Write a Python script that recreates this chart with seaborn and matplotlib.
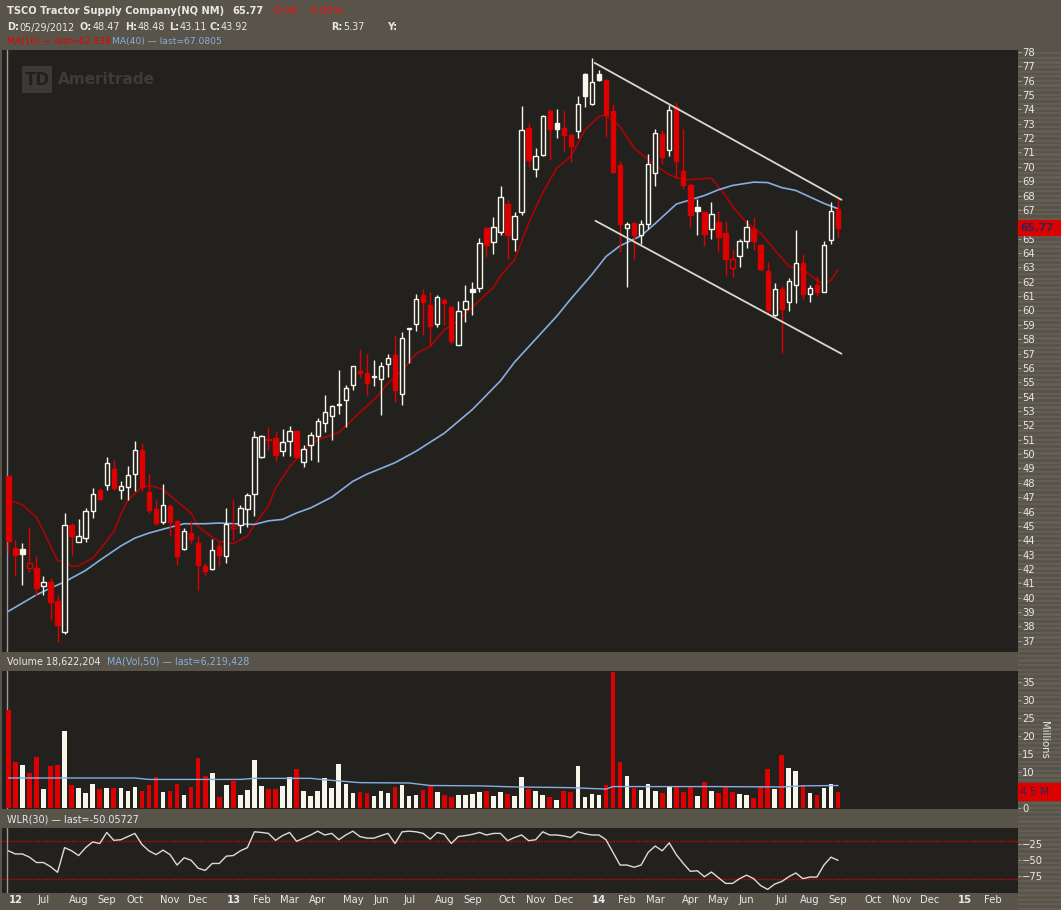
import numpy as np
import pandas as pd
import seaborn as sns
import matplotlib.pyplot as plt
import matplotlib.transforms as mtrans
from matplotlib.patches import Rectangle

# weekly bars, first bar = week of 2012-05-28
opens = [48.47, 43.46, 43.39, 42.06, 42.06, 40.83, 41.09, 39.79, 37.59, 45.06,
         43.87, 44.15, 46.05, 47.52, 47.86, 48.95, 47.52, 47.70, 48.63, 50.30,
         47.33, 46.19, 45.24, 46.40, 45.36, 43.39, 44.50, 43.80, 42.23, 42.02,
         43.57, 42.88, 44.85, 45.03, 46.17, 47.21, 49.79, 51.04, 51.11, 50.18,
         50.88, 51.58, 49.44, 50.60, 51.27, 52.13, 52.62, 53.39, 53.78, 54.78,
         55.80, 55.66, 55.36, 55.22, 56.26, 56.91, 54.18, 58.70, 59.05, 61.09,
         60.39, 59.05, 60.74, 60.23, 57.59, 60.09, 61.48, 61.55, 65.73, 64.75,
         65.45, 67.42, 64.96, 66.84, 72.69, 69.83, 70.81, 73.89, 73.04, 72.69,
         72.22, 72.46, 76.47, 74.36, 76.47, 76.05, 73.89, 70.14, 65.73, 66.12,
         65.22, 66.01, 69.56, 72.29, 71.18, 74.15, 69.72, 68.74, 67.19, 66.84,
         65.66, 66.15, 65.38, 62.94, 63.76, 64.85, 65.66, 64.57, 62.76, 59.65,
         61.50, 60.58, 61.74, 63.29, 61.13, 61.78, 61.27, 64.89, 67.07]
highs = [48.48, 44.04, 43.80, 44.85, 42.88, 41.48, 41.37, 40.21, 45.89, 45.20,
         45.47, 46.24, 47.63, 47.63, 49.79, 49.60, 48.10, 49.19, 50.93, 50.76,
         48.63, 46.82, 47.93, 46.50, 45.40, 44.85, 45.31, 44.27, 42.41, 44.08,
         43.92, 46.24, 46.89, 46.47, 47.28, 51.58, 51.30, 51.88, 51.58, 51.74,
         51.97, 51.65, 50.65, 51.53, 52.50, 54.13, 53.43, 55.87, 54.83, 56.12,
         57.33, 56.98, 56.57, 56.38, 56.98, 58.31, 58.47, 58.75, 61.16, 61.48,
         61.25, 61.09, 60.86, 60.30, 60.63, 61.79, 61.97, 65.03, 65.80, 66.49,
         68.63, 67.70, 66.82, 74.24, 73.04, 71.30, 73.60, 74.01, 74.01, 73.96,
         72.25, 74.94, 76.50, 77.56, 76.75, 76.10, 74.38, 70.41, 66.14, 66.15,
         66.31, 70.90, 72.64, 72.53, 74.31, 74.54, 72.64, 68.86, 67.77, 66.90,
         67.54, 66.93, 66.24, 64.29, 64.99, 66.31, 66.49, 64.60, 63.36, 61.90,
         61.67, 62.29, 65.61, 63.92, 61.78, 62.43, 64.80, 67.54, 67.82]
lows = [43.11, 41.48, 40.90, 41.80, 40.09, 40.21, 38.47, 36.89, 37.47, 42.99,
        43.87, 43.85, 45.54, 46.80, 47.52, 47.47, 46.87, 46.82, 47.40, 47.40,
        45.89, 45.08, 45.15, 44.27, 42.25, 43.30, 43.80, 40.51, 41.60, 41.95,
        42.18, 42.41, 44.04, 44.50, 44.89, 45.66, 49.70, 50.30, 49.53, 49.84,
        49.84, 49.72, 49.07, 49.60, 49.42, 51.51, 51.00, 52.78, 51.88, 54.48,
        55.29, 54.08, 54.71, 52.69, 55.34, 53.62, 53.43, 56.33, 58.54, 58.31,
        57.49, 58.84, 59.00, 57.68, 57.59, 59.19, 59.65, 61.30, 63.71, 63.92,
        65.22, 63.57, 64.15, 66.61, 69.97, 69.28, 70.75, 70.44, 71.99, 71.06,
        70.32, 71.99, 74.15, 74.30, 76.00, 72.06, 69.60, 64.10, 61.60, 63.57,
        64.64, 65.68, 68.63, 70.20, 70.76, 69.25, 68.44, 65.84, 65.22, 64.50,
        64.96, 64.10, 62.43, 62.36, 62.99, 64.38, 64.22, 62.71, 59.65, 59.63,
        57.03, 59.93, 60.51, 60.81, 60.62, 60.97, 61.25, 64.61, 65.10]
closes = [43.92, 42.94, 43.04, 42.41, 40.67, 41.07, 39.67, 38.12, 45.06, 44.27,
          44.31, 46.05, 47.21, 46.87, 49.37, 47.63, 47.75, 48.54, 50.30, 47.70,
          46.12, 45.20, 46.47, 45.24, 42.88, 44.66, 44.08, 42.25, 41.83, 43.34,
          42.99, 45.15, 45.01, 46.24, 47.12, 51.16, 51.25, 50.95, 49.91, 50.81,
          51.58, 49.79, 50.35, 51.34, 52.32, 52.92, 53.32, 53.48, 54.62, 56.12,
          55.61, 54.92, 55.43, 56.12, 56.68, 54.43, 58.07, 58.75, 60.79, 60.56,
          58.89, 60.93, 60.51, 57.84, 59.95, 60.65, 61.25, 64.68, 64.57, 65.80,
          67.88, 65.22, 66.54, 72.57, 70.44, 70.76, 73.52, 72.62, 72.66, 72.18,
          71.48, 74.36, 74.96, 75.89, 76.01, 73.62, 69.63, 66.01, 66.03, 65.22,
          66.03, 70.18, 72.34, 70.67, 73.96, 70.37, 68.74, 66.66, 66.89, 65.31,
          66.70, 65.10, 63.59, 63.57, 64.85, 65.80, 64.80, 62.87, 60.00, 61.48,
          60.11, 62.06, 63.29, 61.13, 61.55, 61.27, 64.57, 66.93, 65.77]

# volume in millions
volumes = [27.2, 12.8, 11.9, 9.7, 14.1, 5.3, 11.6, 11.9, 21.4, 6.4,
           5.6, 4.1, 6.6, 5.3, 5.6, 5.6, 5.6, 4.7, 5.9, 4.7,
           6.4, 8.6, 4.4, 4.7, 6.6, 3.6, 5.8, 13.9, 8.9, 9.7,
           3.0, 6.4, 7.5, 3.6, 5.0, 13.3, 6.1, 5.3, 5.3, 6.1,
           8.6, 10.8, 4.7, 3.3, 4.7, 8.3, 5.5, 12.2, 6.6, 4.1,
           4.4, 4.1, 3.3, 4.7, 4.1, 5.8, 6.4, 3.3, 3.6, 5.0,
           6.4, 4.4, 3.6, 3.0, 3.6, 3.6, 3.9, 4.4, 4.7, 3.3,
           4.4, 3.9, 3.3, 8.6, 5.3, 4.7, 3.6, 3.0, 2.2, 4.7,
           4.4, 11.6, 3.0, 3.9, 3.6, 6.4, 37.8, 12.8, 8.9, 5.5,
           5.0, 6.6, 4.7, 4.1, 6.1, 5.7, 4.4, 6.1, 3.3, 7.2,
           4.7, 4.1, 5.7, 4.4, 3.9, 3.6, 2.8, 6.1, 10.8, 5.3,
           14.7, 11.1, 10.3, 6.4, 4.1, 3.6, 5.5, 6.6, 4.5]

wlr = [-35, -40, -40, -45, -53.5, -53.5, -60, -69, -30, -35,
       -42.5, -30, -21, -23.5, -6, -18.5, -17.5, -12.5, -7.5, -25,
       -35, -41, -34, -41, -57.5, -46, -50, -62.5, -66, -55,
       -55, -43.5, -42.5, -35, -30, -5, -6, -7.5, -18.5, -11,
       -6, -20, -15, -10, -4, -10, -7.5, -17.5, -10, -4,
       -12.5, -15, -15, -11, -7.5, -23.5, -5, -4, -5, -7.5,
       -16.5, -6, -9, -23.5, -12.5, -11, -9, -6, -10, -7.5,
       -7.5, -19, -14, -10, -19, -17.5, -5, -10, -10, -11.5,
       -14, -5, -8, -10, -10, -17.5, -37.5, -57.5, -57.5, -61,
       -57.5, -37.5, -27.5, -35, -22.5, -41, -55, -67.5, -66.5, -76,
       -68.5, -77.5, -86.5, -86.5, -79, -73.5, -79, -90, -96, -87.5,
       -83.5, -76, -70, -79, -76.5, -76.5, -57.5, -45, -50.06]

# moving averages (week index, value)
ma10_week = [0, 2, 4, 5, 6, 7, 8, 9, 10, 12, 13, 15, 16, 17, 19, 20, 21, 22, 24, 26,
             27, 29, 30, 32, 34, 35, 37, 38, 40, 42, 44, 47, 50, 52, 54, 56, 58, 60, 62, 64,
             67, 69, 70, 72, 74, 76, 78, 80, 82, 84, 85, 87, 89, 92, 94, 96, 98, 100, 102, 103,
             105, 106, 107, 109, 111, 113, 115, 116, 117, 118]
ma10_val = [46.82, 46.47, 45.6, 44.62, 43.6, 42.6, 42.5, 42.18, 42.23, 42.75, 43.34, 44.6, 45.78,
            46.8, 47.7, 47.79, 47.7, 47.52, 46.7, 45.9, 44.96, 44.2, 43.92, 43.76, 44.3, 45.08,
            46.4, 47.63, 49.1, 50.2, 51.0, 51.5, 52.9, 53.78, 54.94, 55.8, 57.0, 57.49, 58.65,
            59.3, 60.7, 61.6, 62.4, 63.52, 66.08, 68.2, 69.9, 70.72, 72.57, 73.5, 73.62, 72.8,
            71.3, 70.1, 69.45, 69.09, 69.14, 69.21, 68.0, 67.24, 66.1, 65.73, 65.38, 64.22,
            63.06, 62.87, 62.1, 61.83, 62.1, 62.84]
ma40_week = [0, 4, 6, 8, 11, 13, 16, 18, 20, 23, 25, 28, 30, 32, 35, 37, 39, 41, 43, 46,
             49, 51, 55, 58, 62, 66, 70, 72, 75, 78, 80, 83, 85, 87, 90, 92, 95, 99, 101, 103,
             106, 108, 110, 112, 114, 116, 118]
ma40_val = [39.05, 40.2, 40.67, 41.1, 41.9, 42.6, 43.6, 44.15, 44.5, 44.9, 45.15, 45.15, 45.2,
            45.15, 45.1, 45.35, 45.45, 45.9, 46.25, 47.0, 48.1, 48.6, 49.4, 50.2, 51.45, 53.1,
            55.1, 56.4, 58.0, 59.6, 60.8, 62.5, 63.75, 64.5, 65.2, 66.05, 67.4, 68.0, 68.4,
            68.7, 68.93, 68.9, 68.55, 68.35, 67.9, 67.45, 67.08]
volma_week = [0, 18, 20, 33, 35, 43, 45, 50, 57, 60, 67, 72, 80, 85, 86, 100, 110, 113, 118]
volma_val = [8.3, 8.3, 7.9, 7.9, 8.2, 8.2, 7.8, 7.0, 6.9, 6.2, 6.1, 5.8, 5.6, 5.2, 5.9, 5.9,
             5.8, 6.1, 6.2]

# drawn channel lines (week, price)
upper_week = [83.4, 118.5]
upper_price = [77.23, 67.70]
lower_week = [83.5, 118.5]
lower_price = [66.24, 56.98]

month_labels = ['12', 'Jul', 'Aug', 'Sep', 'Oct', 'Nov', 'Dec', '13', 'Feb', 'Mar', 'Apr',
                'May', 'Jun', 'Jul', 'Aug', 'Sep', 'Oct', 'Nov', 'Dec', '14', 'Feb', 'Mar',
                'Apr', 'May', 'Jun', 'Jul', 'Aug', 'Sep', 'Oct', 'Nov', 'Dec', '15', 'Feb']
price_ticks = list(range(37, 79))
vol_ticks = [0, 5, 10, 15, 20, 25, 30, 35]
wlr_ticks = [-25, -50, -75]
wlr_levels = [-20, -80]

# colours
BAND = '#58544a'
STRIPE = '#625e54'
BG = '#23211e'
RED = '#dc0000'
WHITE = '#f6f6ea'
MA10_C = '#b80000'
MA40_C = '#86aee0'
TXT = '#e8e8e8'
LINE_C = '#d8d8ce'

sns.set_theme(style='dark')
plt.rcParams['font.family'] = ['DejaVu Sans']

W, H = 1061, 910
fig = plt.figure(figsize=(W / 100, H / 100), dpi=100, facecolor=BAND)
renderer = fig.canvas.get_renderer()


def fx(x):
    return x / W


def fy(y):
    return 1 - y / H


ax_s = fig.add_axes([fx(1018), 0, fx(43), 1 - 50 / H])
ax_s.set_zorder(-1)
ax_s.set_xlim(0, 1)
ax_s.set_ylim(0, 860)
ax_s.axis('off')
for y0 in np.arange(0, 860, 4.6):
    ax_s.axhspan(y0, y0 + 2.3, color=STRIPE, lw=0)

ax_p = fig.add_axes([fx(2), fy(651.7), fx(1016), 601.7 / H])
ax_v = fig.add_axes([fx(2), fy(809.3), fx(1016), 138.3 / H])
ax_w = fig.add_axes([fx(2), fy(892.7), fx(1016), 65 / H])

idx = np.arange(len(closes))
o = np.array(opens)
c = np.array(closes)
h = np.array(highs)
l = np.array(lows)
up_prev = np.r_[False, c[1:] >= c[:-1]]
colors = np.where(up_prev, WHITE, RED)
hollow = c >= o
face = np.where(hollow, BG, colors)

xmin, xmax = -0.9, 143.6
for ax in (ax_p, ax_v, ax_w):
    ax.set_facecolor(BG)
    ax.set_xlim(xmin, xmax)
    for s in ax.spines.values():
        s.set_visible(False)
    ax.grid(False)
    ax.axvline(-0.12, color='#9a9a9a', lw=1, zorder=0.5)
    ax.yaxis.tick_right()
    ax.tick_params(axis='y', colors='#9a9a9a', labelcolor=TXT, labelsize=7.2,
                   length=2, width=0.8, pad=1, direction='out')

# price panel
ax_p.vlines(idx, l, h, colors=colors, lw=1, zorder=2)
ax_p.bar(idx, np.maximum(np.abs(c - o), 0.07), bottom=np.minimum(o, c), width=0.62,
         color=face, edgecolor=colors, linewidth=1, zorder=3)
sns.lineplot(x=ma10_week, y=ma10_val, ax=ax_p, color=MA10_C, lw=1.1, zorder=1.8)
sns.lineplot(x=ma40_week, y=ma40_val, ax=ax_p, color=MA40_C, lw=1.2, zorder=1.8)
ax_p.plot(upper_week, upper_price, color=LINE_C, lw=1.3, zorder=4)
ax_p.plot(lower_week, lower_price, color=LINE_C, lw=1.3, zorder=4)
ax_p.set_ylim(36.24, 78.13)
ax_p.set_yticks(price_ticks)
# the last-price tag hides the 66 label, as on the source chart
ax_p.set_yticklabels(['' if t == 66 else str(t) for t in price_ticks])
ax_p.set_xticks([])
ax_p.set_xlabel('')
ax_p.set_ylabel('')

tr_p = mtrans.blended_transform_factory(ax_p.transAxes, ax_p.transData)
ax_p.add_patch(Rectangle((1.0, closes[-1] - 0.49), 43 / 1016, 0.98, transform=tr_p,
                         color=RED, clip_on=False, zorder=10))
ax_p.text(1.0 + 2 / 1016, closes[-1], f'{closes[-1]:.2f}', transform=tr_p, va='center',
          ha='left', color='#2a2a58', fontsize=7.6, fontweight='bold', zorder=11)

# volume panel
ax_v.bar(idx, volumes, width=0.66, color=colors, linewidth=0, zorder=2)
sns.lineplot(x=volma_week, y=volma_val, ax=ax_v, color=MA40_C, lw=1.0, zorder=3)
ax_v.set_ylim(-0.45, 38.2)
ax_v.set_yticks(vol_ticks)
ax_v.set_yticklabels(['' if t == 5 else str(t) for t in vol_ticks])
ax_v.set_xticks([])
ax_v.set_xlabel('')
ax_v.set_ylabel('')
tr_v = mtrans.blended_transform_factory(ax_v.transAxes, ax_v.transData)
ax_v.add_patch(Rectangle((1.0, volumes[-1] - 2.4), 43 / 1016, 4.8, transform=tr_v,
                         color=RED, clip_on=False, zorder=10))
ax_v.text(1.0 + 2 / 1016, volumes[-1], f'{volumes[-1]:.1f} M', transform=tr_v, va='center',
          ha='left', color='#2a2a58', fontsize=7.6, zorder=11)

# WLR panel
sns.lineplot(x=idx, y=wlr, ax=ax_w, color='#dcdcd2', lw=1, zorder=3)
for lev in wlr_levels:
    ax_w.axhline(lev, color='#e00000', lw=1.0, ls=(0, (1, 1)), zorder=2)
ax_w.set_ylim(-101.2, 1.5)
ax_w.set_yticks(wlr_ticks)
ax_w.set_xlabel('')
ax_w.set_ylabel('')

start = pd.Timestamp('2012-05-28')
months = pd.date_range('2012-06-01', periods=len(month_labels), freq='MS')
first_mon = [m + pd.Timedelta(days=(7 - m.weekday()) % 7) for m in months]
month_pos = [(d - start).days / 7 for d in first_mon]
ax_w.set_xticks(month_pos)
ax_w.set_xticklabels(month_labels)
ax_w.tick_params(axis='x', length=0, pad=2, labelsize=7.2, labelcolor=TXT)
for lbl in ax_w.get_xticklabels():
    if lbl.get_text().isdigit():
        lbl.set_fontweight('bold')

fig.text(fx(1044), fy(740), 'Millions', rotation=270, va='center', ha='center',
         fontsize=7.2, color=TXT)


# header texts; each piece returns its right edge in pixels
def htxt(x, y, s, color=TXT, bold=False, size=7.0):
    t = fig.text(fx(x), fy(y), s, color=color, fontsize=size, va='center', ha='left',
                 fontweight='bold' if bold else 'normal')
    return t.get_window_extent(renderer).x1


htxt(7, 11.5, 'TSCO Tractor Supply Company(NQ NM)', bold=True, size=7.1)
htxt(232, 11.5, '65.77', bold=True, size=7.1)
htxt(272, 11.5, '-0.06', color='#ee1010', size=7.4)
htxt(307, 11.5, '-0.09%', color='#ee1010', size=7.4)
for x, lab, val in [(7, 'D:', '05/29/2012'), (80, 'O:', '48.47'), (125, 'H:', '48.48'),
                    (169, 'L:', '43.11'), (209, 'C:', '43.92'), (331, 'R:', '5.37'),
                    (387, 'Y:', '')]:
    x1 = htxt(x, 27.5, lab, bold=True, size=6.9)
    if val:
        htxt(x1 + 0.5, 27.5, val, size=6.9)
x1 = htxt(7, 41.5, 'MA(10) \u2014 last=62.838', color='#e80000', size=6.6)
htxt(x1 + 1.5, 41.5, 'MA(40) \u2014 last=67.0805', color=MA40_C, size=6.6)

x1 = htxt(7, 662, 'Volume 18,622,204', size=6.9)
htxt(x1 + 6, 662, 'MA(Vol,50) \u2014 last=6,219,428', color=MA40_C, size=6.9)
htxt(7, 819, 'WLR(30) \u2014 last=-50.05727', size=6.9)

# watermark
fig.add_artist(Rectangle((fx(22), fy(93)), fx(30), 27 / H, transform=fig.transFigure,
                         color='#3c3a36', lw=0, zorder=1))
fig.text(fx(37), fy(80), 'TD', color=BG, fontsize=12, fontweight='bold', va='center',
         ha='center', zorder=2)
fig.text(fx(58), fy(79), 'Ameritrade', color='#3e3c38', fontsize=11, fontweight='bold',
         va='center', ha='left', zorder=2)

fig.savefig('out.png', dpi=100, facecolor=BAND)
